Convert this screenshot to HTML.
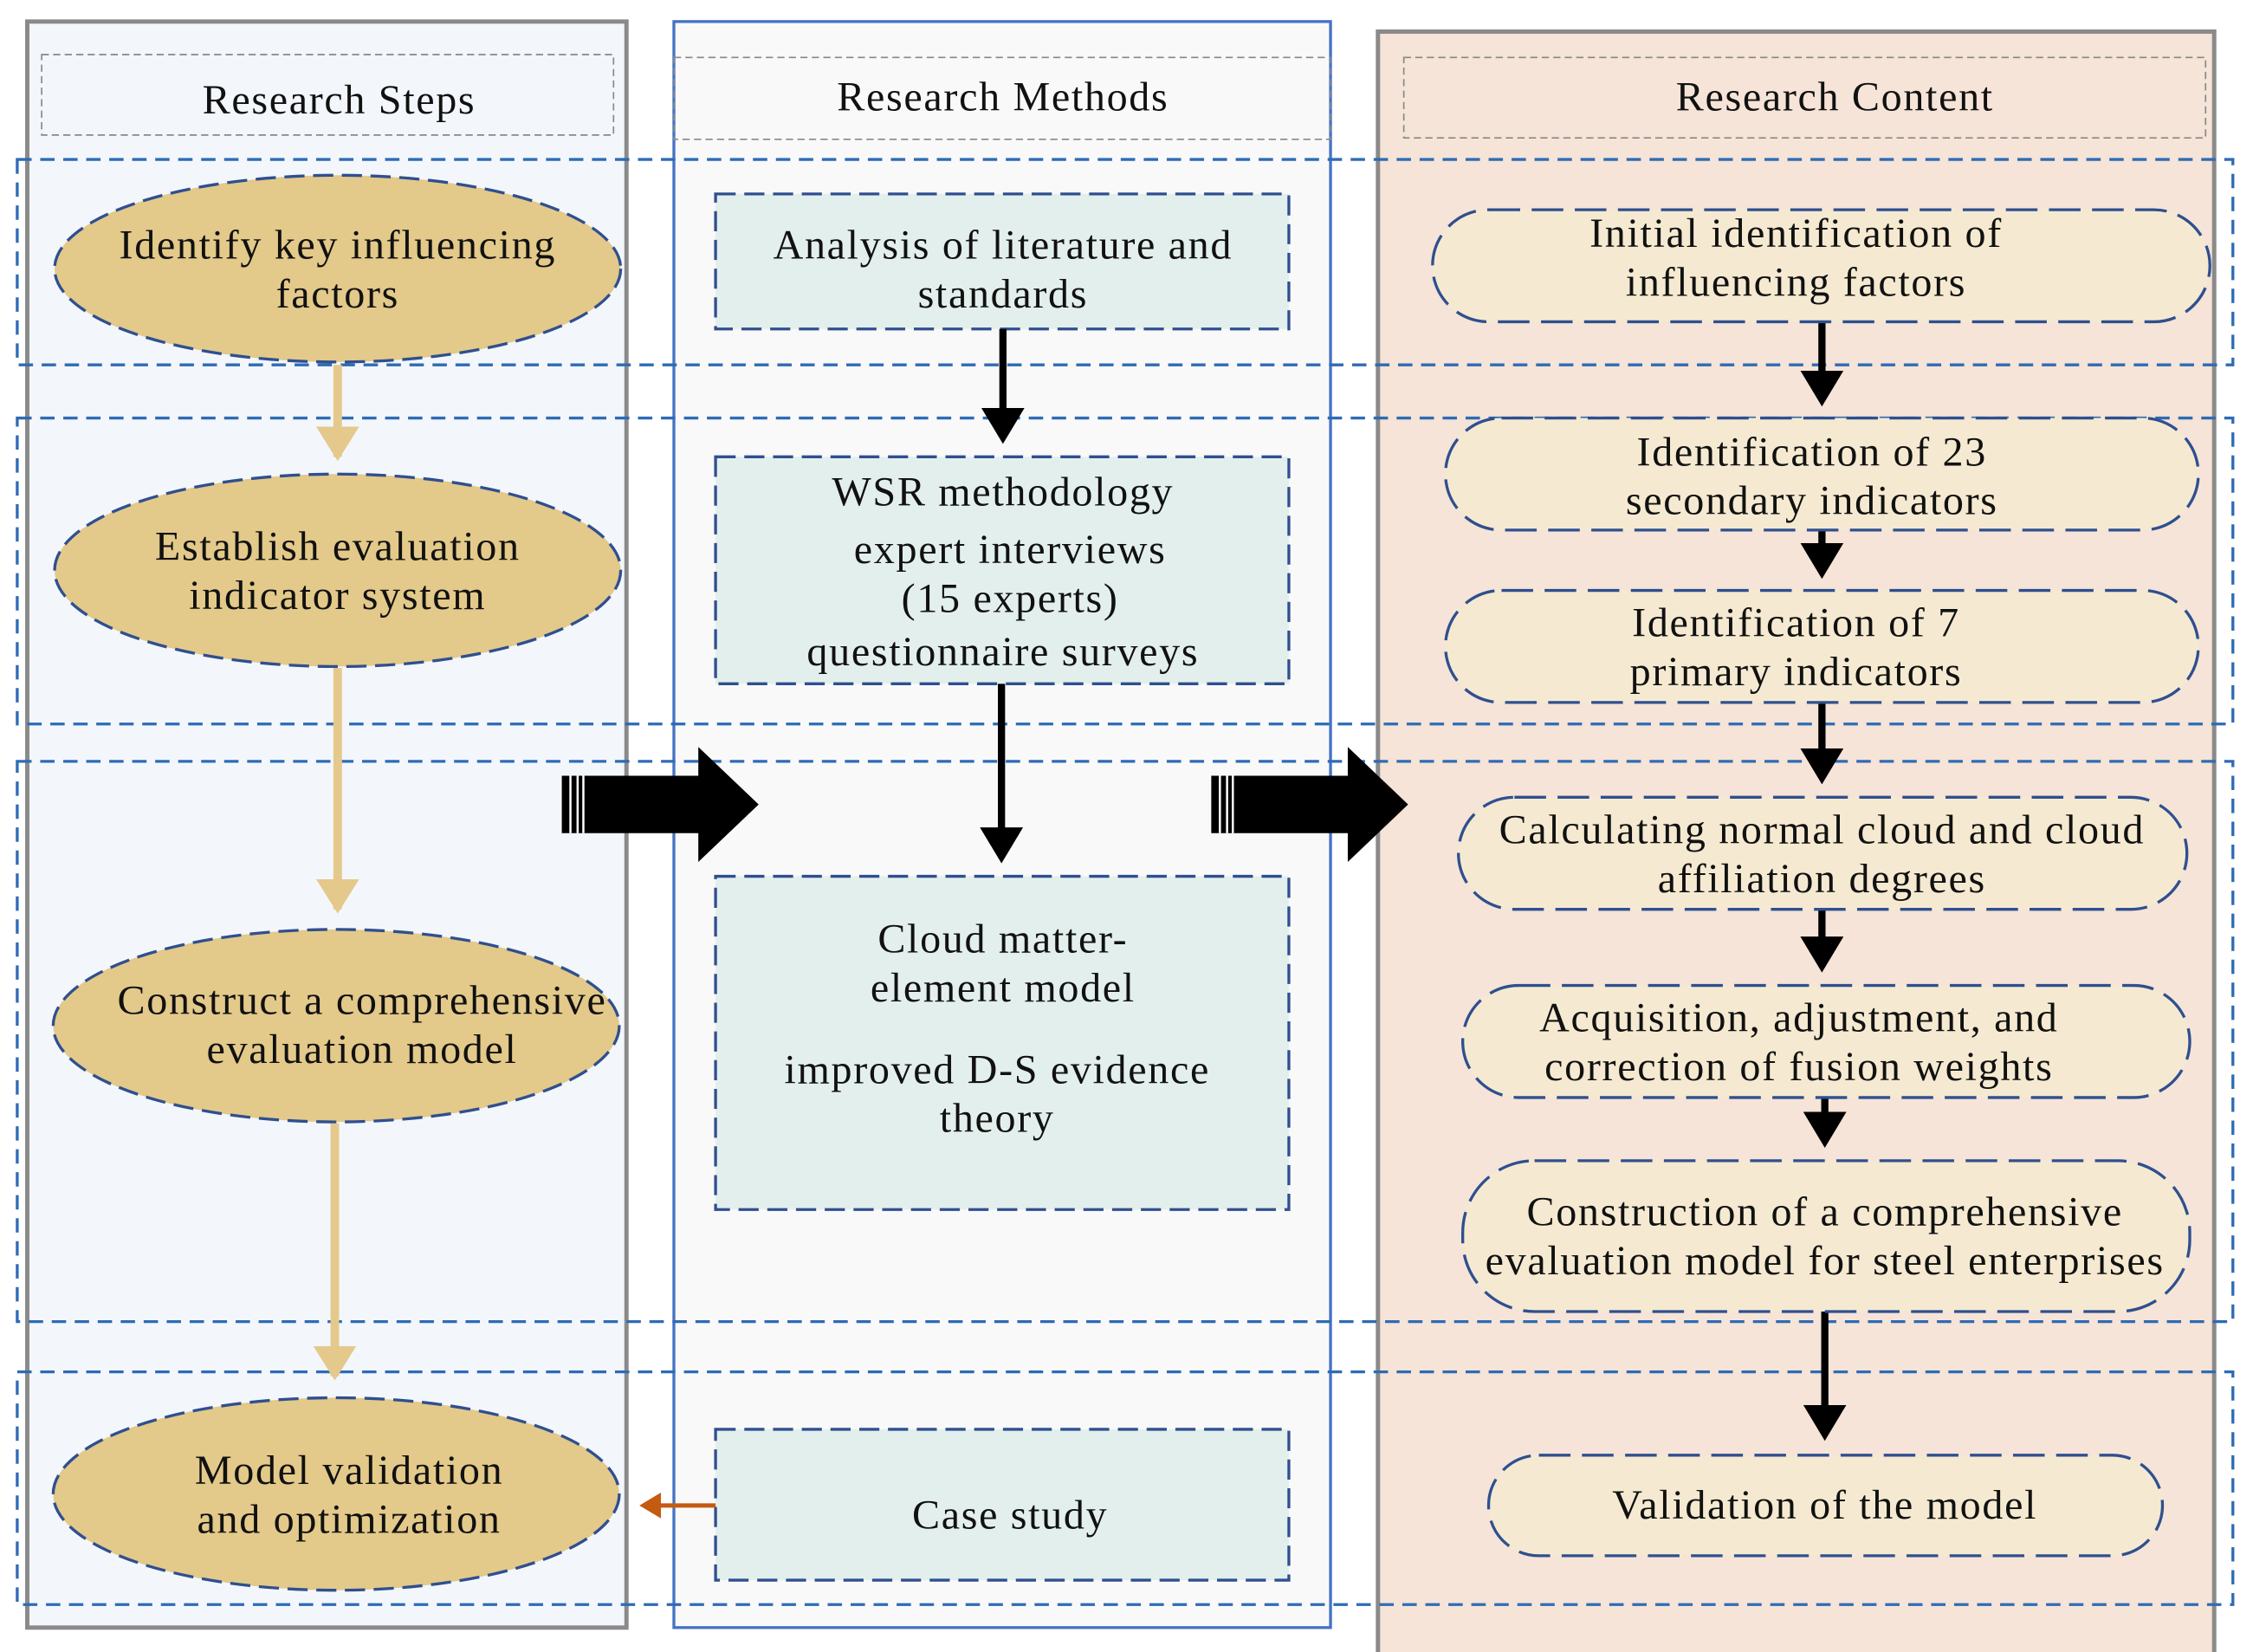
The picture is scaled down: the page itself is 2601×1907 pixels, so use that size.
<!DOCTYPE html>
<html><head><meta charset="utf-8"><style>
html,body{margin:0;padding:0;background:#fff;}
svg{display:block;}
text{font-family:"Liberation Serif",serif;font-size:29px;letter-spacing:1px;fill:#111;text-anchor:middle;}
</style></head><body>
<svg width="2601" height="1907" viewBox="0 0 1568 1150" preserveAspectRatio="none" xmlns="http://www.w3.org/2000/svg">
<defs>
<marker id="bk" markerWidth="6" markerHeight="6" refX="4" refY="3" orient="auto" markerUnits="strokeWidth"><path d="M0,0 L5,3 L0,6 z" fill="#000"/></marker>
<marker id="tn" markerWidth="5" markerHeight="5" refX="3.5" refY="2.5" orient="auto" markerUnits="strokeWidth"><path d="M0,0 L4,2.5 L0,5 z" fill="#e5c98c"/></marker>
<marker id="or" markerWidth="6" markerHeight="6" refX="4" refY="3" orient="auto" markerUnits="strokeWidth"><path d="M0,0 L5,3 L0,6 z" fill="#c55a11"/></marker>
</defs>
<rect width="1568" height="1150" fill="#fff"/>
<rect x="19" y="15" width="417" height="1118" fill="#f3f7fb" stroke="#8a8a8a" stroke-width="3"/>
<rect x="469" y="15" width="457" height="1118" fill="#f9f9f9" stroke="#4472c4" stroke-width="2"/>
<rect x="959" y="22" width="582" height="1140" fill="#f5e4d7" stroke="#8a8a8a" stroke-width="3"/>
<rect x="29" y="38" width="398" height="56" fill="none" stroke="#888" stroke-width="1" stroke-dasharray="5,3"/>
<text x="236" y="79">Research Steps</text>
<rect x="469" y="40" width="457" height="57" fill="none" stroke="#888" stroke-width="1" stroke-dasharray="5,3"/>
<text x="698" y="77">Research Methods</text>
<rect x="977" y="40" width="558" height="56" fill="none" stroke="#888" stroke-width="1" stroke-dasharray="5,3"/>
<text x="1277" y="77">Research Content</text>
<g fill="none" stroke="#2e6bb5" stroke-width="2" stroke-dasharray="10,6">
<rect x="12" y="111" width="1542" height="143"/>
<rect x="12" y="291" width="1542" height="213"/>
<rect x="12" y="530" width="1542" height="390"/>
<rect x="12" y="955" width="1542" height="162"/>
</g>
<g stroke="#e5c98c" stroke-width="6" marker-end="url(#tn)">
<line x1="235" y1="254" x2="235" y2="318"/>
<line x1="235" y1="465" x2="235" y2="633"/>
<line x1="233" y1="782" x2="233" y2="958"/>
</g>
<g fill="#e3c98a" stroke="#2f4f8f" stroke-width="2" stroke-dasharray="14,6">
<ellipse cx="235" cy="187" rx="197" ry="65"/>
<ellipse cx="235" cy="397" rx="197" ry="67"/>
<ellipse cx="234" cy="714" rx="197" ry="67"/>
<ellipse cx="234" cy="1040" rx="197" ry="67"/>
</g>
<text x="235" y="180">Identify key influencing</text>
<text x="235" y="214">factors</text>
<text x="235" y="390">Establish evaluation</text>
<text x="235" y="424">indicator system</text>
<text x="252" y="706">Construct a comprehensive</text>
<text x="252" y="740">evaluation model</text>
<text x="243" y="1033">Model validation</text>
<text x="243" y="1067">and optimization</text>
<g fill="#e3efec" stroke="#2f4f8f" stroke-width="2" stroke-dasharray="14,6">
<rect x="498" y="135" width="399" height="94"/>
<rect x="498" y="318" width="399" height="158"/>
<rect x="498" y="610" width="399" height="232"/>
<rect x="498" y="995" width="399" height="105"/>
</g>
<text x="698" y="180">Analysis of literature and</text>
<text x="698" y="214">standards</text>
<text x="698" y="352">WSR methodology</text>
<text x="703" y="392">expert interviews</text>
<text x="703" y="426">(15 experts)</text>
<text x="698" y="463">questionnaire surveys</text>
<text x="698" y="663">Cloud matter-</text>
<text x="698" y="697">element model</text>
<text x="694" y="754">improved D-S evidence</text>
<text x="694" y="788">theory</text>
<text x="703" y="1064">Case study</text>
<g stroke="#000" stroke-width="5" marker-end="url(#bk)">
<line x1="698" y1="229" x2="698" y2="304"/>
<line x1="697" y1="476" x2="697" y2="596"/>
<line x1="1268" y1="224" x2="1268" y2="278"/>
<line x1="1268" y1="369" x2="1268" y2="398"/>
<line x1="1268" y1="489" x2="1268" y2="541"/>
<line x1="1268" y1="633" x2="1268" y2="672"/>
<line x1="1270" y1="764" x2="1270" y2="794"/>
<line x1="1270" y1="913" x2="1270" y2="998"/>
</g>
<line x1="498" y1="1048" x2="448" y2="1048" stroke="#c55a11" stroke-width="3" marker-end="url(#or)"/>
<g fill="#000">
<path d="M391,540 L486,540 L486,520 L528,560 L486,600 L486,580 L391,580 z"/>
<path d="M843,540 L938,540 L938,520 L980,560 L938,600 L938,580 L843,580 z"/>
</g>
<g stroke="#fff" stroke-width="1.5">
<line x1="397" y1="540" x2="397" y2="580"/><line x1="402" y1="540" x2="402" y2="580"/><line x1="406" y1="540" x2="406" y2="580"/>
<line x1="849" y1="540" x2="849" y2="580"/><line x1="854" y1="540" x2="854" y2="580"/><line x1="858" y1="540" x2="858" y2="580"/>
</g>
<g fill="#f5ead1" stroke="#2f4f8f" stroke-width="2" stroke-dasharray="22,8">
<rect x="997" y="146" width="541" height="78" rx="39"/>
<rect x="1006" y="291" width="524" height="78" rx="39"/>
<rect x="1006" y="411" width="524" height="78" rx="39"/>
<rect x="1015" y="555" width="507" height="78" rx="39"/>
<rect x="1018" y="686" width="506" height="78" rx="39"/>
<rect x="1018" y="808" width="506" height="105" rx="50"/>
<rect x="1036" y="1013" width="469" height="70" rx="35"/>
</g>
<text x="1250" y="172">Initial identification of</text>
<text x="1250" y="206">influencing factors</text>
<text x="1261" y="324">Identification of 23</text>
<text x="1261" y="358">secondary indicators</text>
<text x="1250" y="443">Identification of 7</text>
<text x="1250" y="477">primary indicators</text>
<text x="1268" y="587">Calculating normal cloud and cloud</text>
<text x="1268" y="621">affiliation degrees</text>
<text x="1252" y="718">Acquisition, adjustment, and</text>
<text x="1252" y="752">correction of fusion weights</text>
<text x="1270" y="853">Construction of a comprehensive</text>
<text x="1270" y="887">evaluation model for steel enterprises</text>
<text x="1270" y="1057">Validation of the model</text>
</svg>
</body></html>
